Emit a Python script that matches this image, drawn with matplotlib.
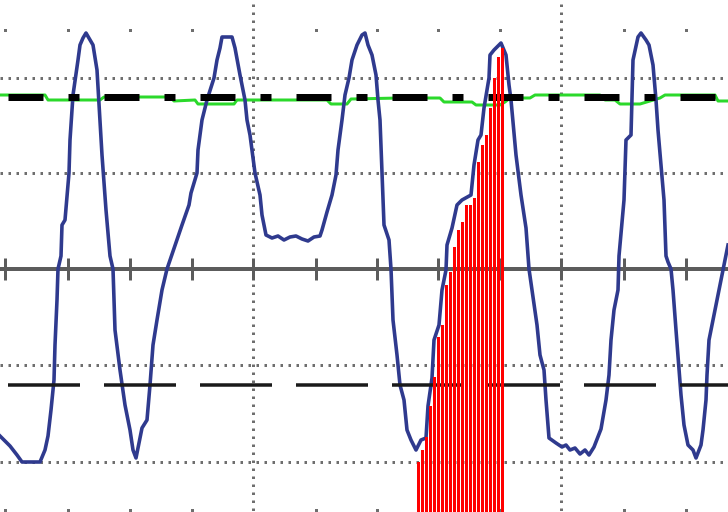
import matplotlib
matplotlib.use("Agg")
import matplotlib.pyplot as plt
import numpy as np

# screen is read in pixel units: x 0..728 left->right, y 0..512 top->bottom
plt.rcParams['lines.scale_dashes'] = False

# blue trace (x, y)
trace_x = [0, 10, 17, 22, 40, 45, 48, 51, 54, 55, 57, 58,
           61, 62, 65, 69, 70, 73, 78, 80, 83, 86,
           93, 97, 102, 106, 110, 113, 115, 120, 125, 130, 133, 136,
           142, 147, 150, 153, 157, 162, 167,
           182, 189, 191, 197, 198, 202, 207, 214, 217, 220, 222, 232,
           235, 240, 245, 247, 250, 255, 260, 262, 266,
           272, 278, 284, 290, 296, 302, 308, 314, 320,
           322, 327, 332, 336, 338, 342, 345, 349, 352, 357, 362, 365,
           368, 372, 376, 378, 380, 382, 384, 389, 391, 393, 397, 400,
           404, 407, 411, 416, 421, 426, 428, 432, 434, 439, 442, 446,
           447, 452, 457, 462, 471, 474, 478, 481, 484, 489, 490, 494, 501,
           506, 509, 511, 516, 521, 526, 529, 532, 537, 540, 544, 546, 549,
           556, 562, 566, 570, 575, 580, 585, 589, 594,
           601, 606, 609, 611, 614, 618, 619, 624, 626, 631, 633, 638, 641,
           646, 649, 653, 656, 658, 661, 664, 666, 668, 671, 673, 676, 681,
           684, 688, 693, 696, 701, 703, 706, 707, 709, 714, 719, 723, 726, 728]
trace_y = [436, 446, 455, 462, 462, 450, 436, 410, 380, 345, 300, 269,
           256, 225, 220, 173, 140, 95, 60, 45, 38, 33,
           45, 70, 155, 210, 256, 269, 330, 370, 405, 430, 450, 458,
           428, 420, 385, 345, 320, 290, 269,
           225, 205, 193, 173, 150, 120, 100, 78, 60, 48, 37, 37,
           48, 75, 100, 120, 135, 173, 195, 215, 235,
           238, 236, 240, 237, 236, 239, 241, 237, 236,
           230, 212, 195, 175, 150, 120, 95, 78, 60, 45, 35, 33,
           45, 55, 75, 100, 120, 173, 225, 240, 269, 320, 355, 385,
           400, 430, 440, 450, 440, 438, 406, 378, 340, 325, 290, 270,
           245, 228, 205, 200, 195, 165, 140, 135, 108, 78, 55, 50, 43,
           55, 85, 100, 155, 195, 228, 269, 290, 325, 355, 370, 400, 438,
           443, 447, 445, 450, 448, 454, 450, 455, 447,
           429, 400, 375, 340, 310, 290, 256, 200, 140, 135, 60, 37, 33,
           40, 45, 65, 100, 130, 165, 200, 256, 262, 269, 290, 330, 395,
           425, 445, 450, 458, 445, 430, 400, 375, 340, 315, 290, 270, 255, 245]

# green reference trace
green_x = [0, 45, 48, 100, 104, 170, 174, 195, 198, 234, 237, 327, 331, 347,
           351, 400, 440, 444, 472, 476, 500, 505, 510, 530, 535, 600, 605, 615,
           620, 640, 650, 660, 665, 715, 718, 728]
green_y = [95, 95, 100, 100, 97, 97, 101, 100, 104, 104, 100, 100, 104, 104,
           99, 98, 98, 102, 102, 105, 105, 102, 98, 98, 95, 95, 100, 100,
           104, 104, 101, 98, 95, 95, 101, 101]

# red sample bars
bar_x = [418, 422, 426, 430, 434, 438, 442, 446, 450, 454, 458,
         462, 466, 470, 474, 478, 482, 486, 490, 494, 498, 502]
bar_top = [462, 450, 437, 406, 377, 337, 325, 285, 272, 247, 230,
           222, 205, 205, 198, 162, 145, 135, 108, 78, 57, 48]

div_x = [5, 68, 130, 192, 253, 316, 377, 438, 500, 561, 624, 686]
major_x = [253, 561]
grid_y = [78, 173, 365, 462]
center_y = 269
upper_level = 96.5
lower_level = 385

px = 0.72  # pixels -> points at dpi 100

fig = plt.figure(figsize=(7.28, 5.12), dpi=100)
ax = fig.add_axes([0, 0, 1, 1])
ax.set_xlim(0, 728)
ax.set_ylim(512, 0)
ax.axis('off')

dot_style = (0, (2.5 * px, 5.5 * px))
gray = '#6e6e6e'
for gy in grid_y:
    ax.plot([0, 728], [gy, gy], color=gray, lw=3 * px, linestyle=dot_style,
            dash_capstyle='butt', zorder=1)
for gx in major_x:
    ax.plot([gx, gx], [4, 512], color=gray, lw=3 * px, linestyle=dot_style,
            dash_capstyle='butt', zorder=1)

minor_x = [x for x in div_x if x not in major_x]
ax.plot(minor_x, [30] * len(minor_x), 's', color=gray, ms=3 * px, mew=0, zorder=1)
ax.plot(minor_x, [510] * len(minor_x), 's', color=gray, ms=3 * px, mew=0, zorder=1)

ax.plot([0, 728], [center_y, center_y], color='#5c5c5c', lw=4 * px, zorder=2)
ax.vlines(div_x, center_y - 11, center_y + 11, color='#5c5c5c', lw=3 * px, zorder=2)

ax.plot(green_x, green_y, color='#2bd92b', lw=3 * px, zorder=3)
ax.plot(trace_x, trace_y, color='#2f3a8e', lw=3.6 * px, zorder=4,
        solid_joinstyle='round')

ax.plot([0, 728], [upper_level, upper_level], color='black', lw=7 * px, zorder=5,
        dash_capstyle='butt',
        linestyle=((96 - 8) * px, (35 * px, 25 * px, 11 * px, 25 * px)))
ax.plot([0, 728], [lower_level, lower_level], color='#1a1a1a', lw=3.5 * px, zorder=5,
        dash_capstyle='butt', linestyle=((96 - 8) * px, (72 * px, 24 * px)))

ax.bar(bar_x, [512 - t for t in bar_top], bottom=bar_top, width=3.0,
       color='#ff0000', linewidth=0, antialiased=False, zorder=6)

fig.savefig('out.png', dpi=100)
